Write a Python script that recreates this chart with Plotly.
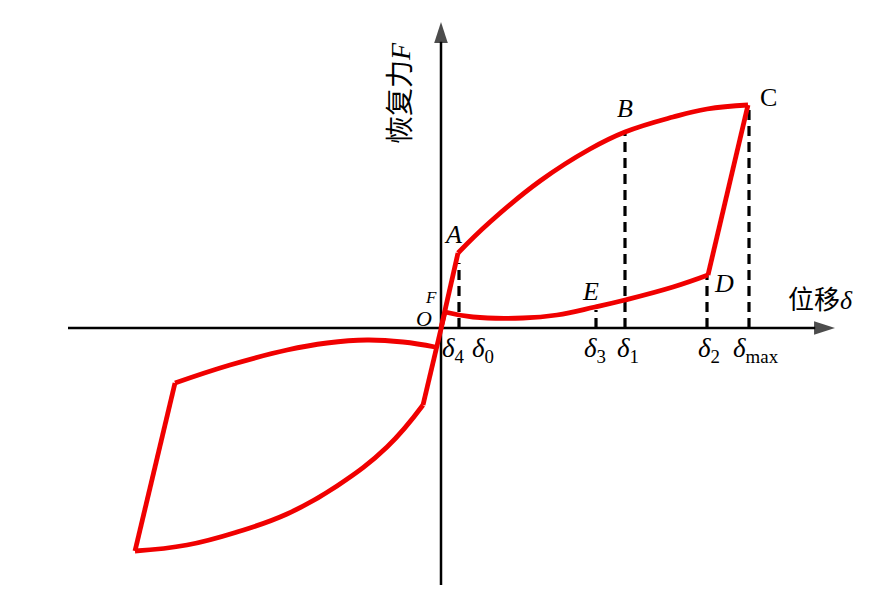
import plotly.graph_objects as go

# ---- data (displacement / restoring force, arbitrary units) ----
elastic_x = [0.0, 0.17]
elastic_y = [0.0, 0.75]

load_x = [0.17, 0.49, 0.99, 1.49, 1.84, 2.32, 2.66, 3.07]
load_y = [0.75, 1.06, 1.47, 1.79, 1.96, 2.11, 2.19, 2.23]

drop_x = [3.07, 2.67]
drop_y = [2.23, 0.53]

unload_x = [2.67, 2.32, 1.84, 1.54, 1.16, 0.82, 0.32, 0.04]
unload_y = [0.53, 0.41, 0.28, 0.21, 0.13, 0.10, 0.11, 0.16]

reverse_x = [0.04, -0.18]
reverse_y = [0.16, -0.77]

neg_load_x = [-0.18, -0.54, -1.04, -1.54, -2.04, -2.54, -3.06]
neg_load_y = [-0.77, -1.19, -1.58, -1.86, -2.04, -2.17, -2.23]

neg_drop_x = [-3.06, -2.66]
neg_drop_y = [-2.23, -0.55]

neg_unload_x = [-2.66, -2.11, -1.54, -1.14, -0.74, -0.38, -0.06]
neg_unload_y = [-0.55, -0.37, -0.22, -0.15, -0.12, -0.14, -0.19]

# dashed guide lines: (x position, height)
guide_x = [0.18, 1.55, 1.84, 2.66, 3.08]
guide_y = [0.65, 0.18, 1.96, 0.53, 2.23]

# axis extents
x_axis_min, x_axis_max = -3.73, 3.94
y_axis_min, y_axis_max = -2.57, 3.06

# point / tick labels
point_labels = ["<i>A</i>", "<i>B</i>", "C", "<i>D</i>", "<i>E</i>"]
point_lx = [0.12, 1.84, 3.27, 2.83, 1.49]
point_ly = [0.94, 2.20, 2.31, 0.45, 0.37]

tick_labels = ["<i>δ</i><sub>4</sub>", "<i>δ</i><sub>0</sub>", "<i>δ</i><sub>3</sub>",
               "<i>δ</i><sub>1</sub>", "<i>δ</i><sub>2</sub>", "<i>δ</i><sub>max</sub>"]
tick_lx = [0.12, 0.42, 1.54, 1.87, 2.68, 3.15]
tick_ly = -0.22

RED = "#f00000"
SERIF = "Times New Roman, Liberation Serif, Noto Sans CJK SC"

fig = go.Figure()

# axes with arrowheads
for ax_x, ax_y in (([x_axis_min, x_axis_max], [0, 0]), ([0, 0], [y_axis_min, y_axis_max])):
    fig.add_trace(go.Scatter(x=ax_x, y=ax_y, mode="lines+markers",
                             line=dict(color="black", width=2.5),
                             marker=dict(symbol=["circle", "arrow"], size=[0, 22],
                                         angleref="previous", color="black",
                                         line=dict(width=0)),
                             hoverinfo="skip", showlegend=False))

# dashed guides
for gx, gy in zip(guide_x, guide_y):
    fig.add_trace(go.Scatter(x=[gx, gx], y=[0, gy], mode="lines",
                             line=dict(color="black", width=3.2, dash="10px,6px"),
                             hoverinfo="skip", showlegend=False))

# hysteresis curve
segments = [
    (elastic_x, elastic_y, "linear"),
    (load_x, load_y, "spline"),
    (drop_x, drop_y, "linear"),
    (unload_x, unload_y, "spline"),
    (reverse_x, reverse_y, "linear"),
    (neg_load_x, neg_load_y, "spline"),
    (neg_drop_x, neg_drop_y, "linear"),
    (neg_unload_x, neg_unload_y, "spline"),
]
for sx, sy, shape in segments:
    fig.add_trace(go.Scatter(x=sx, y=sy, mode="lines",
                             line=dict(color=RED, width=4.8, shape=shape,
                                       smoothing=1.2 if shape == "spline" else None),
                             hoverinfo="skip", showlegend=False))

annotations = []
for t, lx, ly in zip(point_labels, point_lx, point_ly):
    annotations.append(dict(x=lx, y=ly, text=t, showarrow=False,
                            font=dict(family=SERIF, size=26, color="black")))
for t, lx in zip(tick_labels, tick_lx):
    annotations.append(dict(x=lx, y=tick_ly, text=t, showarrow=False,
                            font=dict(family=SERIF, size=27, color="black")))
annotations.append(dict(x=-0.10, y=0.31, text="<i>F</i>", showarrow=False,
                        font=dict(family=SERIF, size=17, color="black")))
annotations.append(dict(x=-0.17, y=0.10, text="<i>O</i>", showarrow=False,
                        font=dict(family=SERIF, size=22, color="black")))
annotations.append(dict(x=3.79, y=0.28, text="位移<i>δ</i>", showarrow=False,
                        font=dict(family=SERIF, size=26, color="black")))
annotations.append(dict(x=-0.41, y=2.35, text="恢复力<i>F</i>", showarrow=False, textangle=-90,
                        font=dict(family=SERIF, size=28, color="black")))

# page body has an 8px margin: size figure to fill the rest of the window
fig.update_layout(
    width=886, height=596,
    margin=dict(l=0, r=0, t=0, b=0),
    paper_bgcolor="white", plot_bgcolor="white",
    xaxis=dict(range=[-4.33, 4.53], visible=False, fixedrange=True),
    yaxis=dict(range=[-2.76, 3.20], visible=False, fixedrange=True),
    annotations=annotations,
    showlegend=False,
)

fig.write_html("out.html")
